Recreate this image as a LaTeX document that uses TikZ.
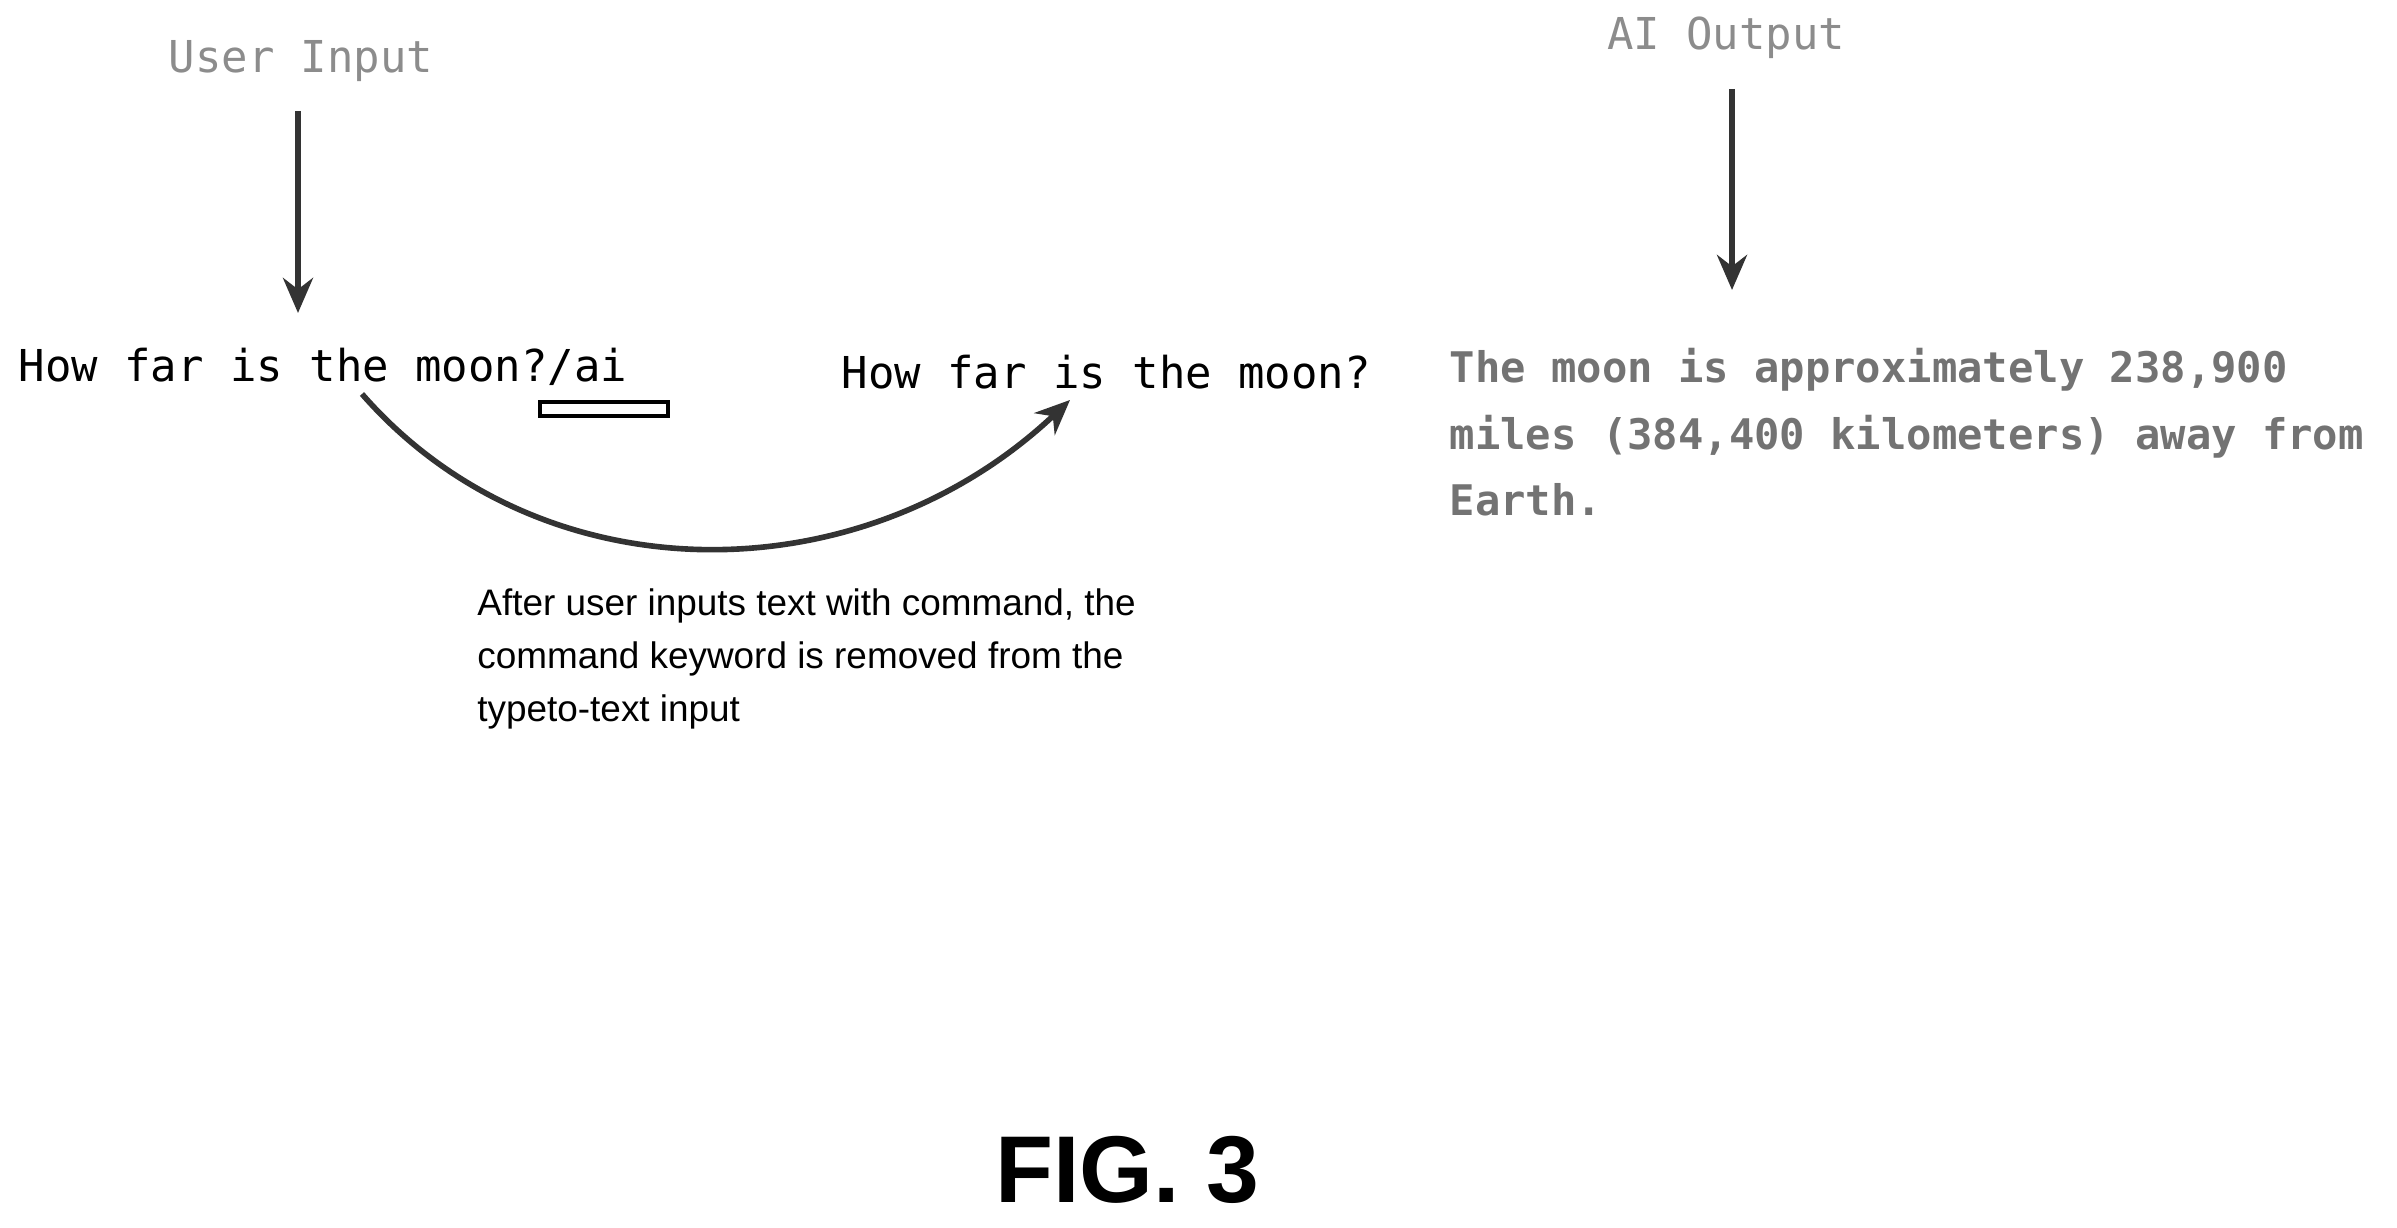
\documentclass[tikz,border=0pt]{standalone}
\usepackage{fontspec}
\setmainfont{Liberation Sans}
\setmonofont{DejaVu Sans Mono}
\usetikzlibrary{positioning,arrows.meta}

\begin{document}
\begin{tikzpicture}[x=1cm,y=1cm,
    mono/.style={font=\fontsize{12.5}{15}\ttfamily, inner sep=0pt},
    label/.style={mono, text=black!45},
    flow/.style={-{Stealth[length=0.35cm,width=0.3cm]}, line width=1.6pt, draw=black!80}]
    \useasboundingbox (0,0) rectangle (23.97,12.28);
    % Labels
    \node[label] (user) at (3.01,11.67) {User Input};
    \node[label] (ai) at (17.26,11.90) {AI Output};
    % Texts
    \node[mono, anchor=west] (query) at (0.18,8.61) {How far is the moon?/ai};
    \node[mono, anchor=west] (clean) at (8.41,8.56) {How far is the moon?};
    \node[mono, anchor=north west, align=left, font=\fontsize{12}{18.8}\ttfamily\bfseries, text=black!55] (answer) at (14.49,8.80)
        {The moon is approximately 238,900\\miles (384,400 kilometers) away from\\Earth.};
    \node[draw, line width=1.2pt, minimum width=1.28cm, minimum height=0.14cm, inner sep=0pt] (keyword) at (6.04,8.19) {};
    \coordinate (u0) at (2.98,11.17);
    \coordinate (a0) at (17.32,11.39);
    \coordinate (qstart) at (3.62,8.34);
    \coordinate (qend) at (10.70,8.28);
    % Arrows
    \draw[flow] (u0) -- (2.98,9.15);
    \draw[flow] (a0) -- (17.32,9.38);
    \draw[flow] (qstart) .. controls (5.4,6.3) and (8.6,6.3) .. (qend);
    % Notes
    \node[anchor=north west, align=left, font=\fontsize{10.5}{15.2}\selectfont] (note) at (4.65,6.52)
        {After user inputs text with command, the\\command keyword is removed from the\\typeto-text input};
    \node[font=\fontsize{27}{30}\selectfont\bfseries] (fig) at (11.27,0.58) {FIG. 3};
\end{tikzpicture}
\end{document}
